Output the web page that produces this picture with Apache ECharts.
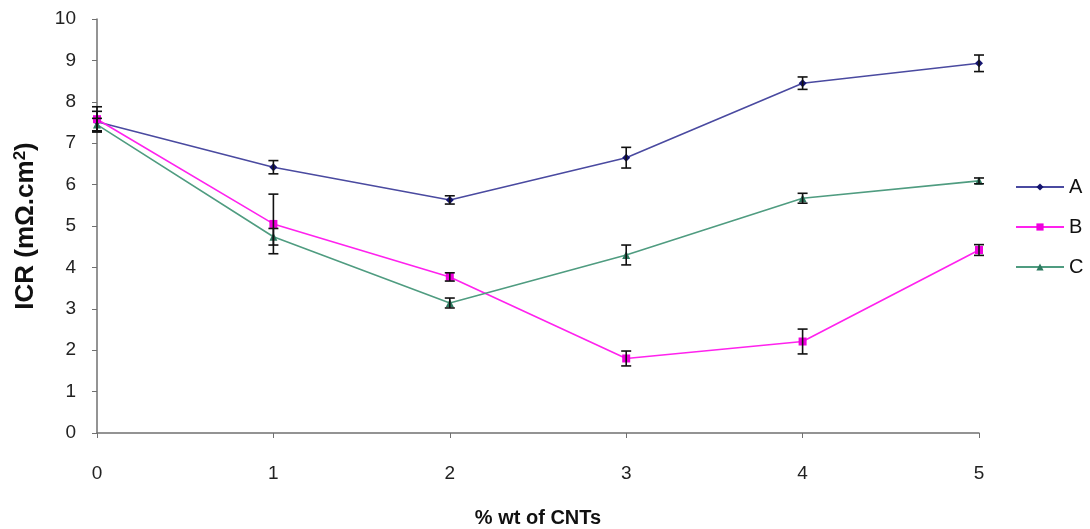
<!DOCTYPE html>
<html><head><meta charset="utf-8">
<script src="https://cdn.jsdelivr.net/npm/echarts@6/dist/echarts.min.js"></script>
<style>html,body{margin:0;padding:0;background:#fff}#c{width:1090px;height:529px}</style>
</head><body><div id="c"></div>
<script>
const categories = [0, 1, 2, 3, 4, 5];
const seriesNames = ['A', 'B', 'C'];
const valuesA = [7.52, 6.42, 5.63, 6.65, 8.45, 8.93];
const valuesB = [7.58, 5.05, 3.77, 1.80, 2.21, 4.42];
const valuesC = [7.45, 4.74, 3.14, 4.30, 5.67, 6.09];
const errA = [0.25, 0.16, 0.10, 0.25, 0.15, 0.20];
const errB = [0.30, 0.72, 0.10, 0.18, 0.30, 0.13];
const errC = [0.15, 0.20, 0.12, 0.24, 0.12, 0.07];
const yTicks = [0, 1, 2, 3, 4, 5, 6, 7, 8, 9, 10];

const colors = {A: '#4a4aa0', B: '#ff22ee', C: '#4f9c80'};
const markColors = {A: '#14146e', B: '#ee00dd', C: '#2e7a60'};
const symbols = {A: 'diamond', B: 'rect', C: 'triangle'};
const values = {A: valuesA, B: valuesB, C: valuesC};
const errs = {A: errA, B: errB, C: errC};

const chart = echarts.init(document.getElementById('c'));
const font = 'Liberation Sans, Arial, sans-serif';

const series = [];
seriesNames.forEach(n => {
  series.push({
    name: n, type: 'line',
    data: categories.map((x, i) => [x, values[n][i]]),
    symbol: symbols[n], symbolSize: 8,
    lineStyle: {color: colors[n], width: 1.6},
    itemStyle: {color: markColors[n]},
    z: 3
  });
  series.push({
    name: n + '_err', type: 'custom',
    data: categories.map((x, i) => [x, values[n][i] - errs[n][i], values[n][i] + errs[n][i]]),
    renderItem: function (params, api) {
      const lo = api.coord([api.value(0), api.value(1)]);
      const hi = api.coord([api.value(0), api.value(2)]);
      const w = 5;
      const st = {stroke: '#111', lineWidth: 1.6};
      return {type: 'group', children: [
        {type: 'line', shape: {x1: lo[0], y1: lo[1], x2: hi[0], y2: hi[1]}, style: st},
        {type: 'line', shape: {x1: lo[0]-w, y1: lo[1], x2: lo[0]+w, y2: lo[1]}, style: st},
        {type: 'line', shape: {x1: hi[0]-w, y1: hi[1], x2: hi[0]+w, y2: hi[1]}, style: st}
      ]};
    },
    z: 4, silent: true
  });
});

chart.setOption({
  animation: false,
  backgroundColor: '#fff',
  grid: {left: 97, right: 111, top: 19, bottom: 96, outerBoundsMode: 'none', containLabel: false},
  legend: {
    data: seriesNames, orient: 'vertical', left: 1010, top: 172,
    itemWidth: 48, itemHeight: 9, itemGap: 20,
    textStyle: {fontFamily: font, fontSize: 20, color: '#111'}
  },
  xAxis: {
    type: 'value', min: 0, max: 5, interval: 1,
    name: '% wt of CNTs', nameLocation: 'middle', nameGap: 75,
    nameTextStyle: {fontFamily: font, fontSize: 20, fontWeight: 'bold', color: '#111'},
    axisLine: {lineStyle: {color: '#707070', width: 1.5}},
    axisTick: {show: true, inside: false, length: 5, lineStyle: {color: '#707070'}},
    axisLabel: {fontFamily: font, fontSize: 19, color: '#222', margin: 31},
    splitLine: {show: false}
  },
  yAxis: {
    type: 'value', min: yTicks[0], max: yTicks[yTicks.length-1], interval: 1,
    name: 'ICR (mΩ.cm{s|2})', nameLocation: 'middle', nameGap: 58, nameRotate: 90,
    nameTextStyle: {fontFamily: font, fontSize: 26, fontWeight: 'bold', color: '#111',
      rich: {s: {fontFamily: font, fontSize: 17, fontWeight: 'bold', color: '#111', verticalAlign: 'top', padding: [0, 0, 10, 0]}}},
    axisLine: {show: true, lineStyle: {color: '#707070', width: 1.5}},
    axisTick: {show: true, length: 5, lineStyle: {color: '#707070'}},
    axisLabel: {fontFamily: font, fontSize: 19, color: '#222', margin: 21},
    splitLine: {show: false}
  },
  series: series
});
</script></body></html>
